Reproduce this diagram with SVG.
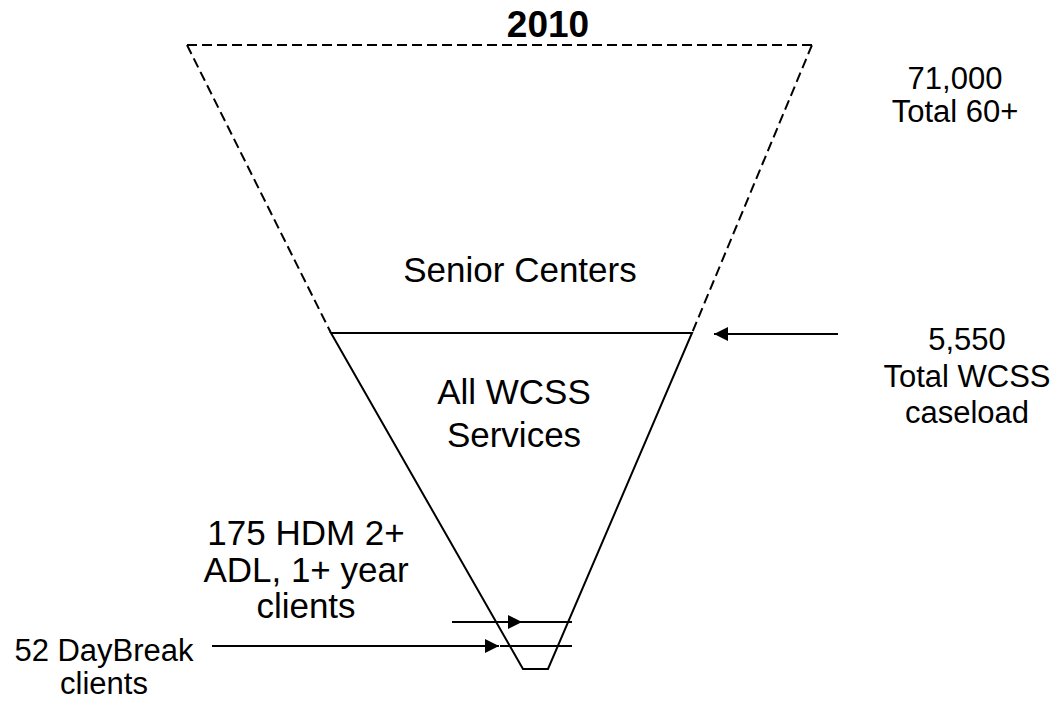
<svg xmlns="http://www.w3.org/2000/svg" width="1059" height="702" viewBox="0 0 1059 702">
  <style>
    text { font-family: "Liberation Sans", Arial, sans-serif; fill: #000; text-anchor: middle; }
    .lg { font-size: 35px; }
    .md { font-size: 31px; }
    .title { font-size: 37px; font-weight: bold; }
    .solid { stroke: #000; stroke-width: 2; fill: none; }
    .dash { stroke: #000; stroke-width: 2; fill: none; stroke-dasharray: 10 5; }
  </style>
  <defs>
    <marker id="arrow" viewBox="0 0 10 10" refX="10" refY="5" markerWidth="7.5" markerHeight="7" orient="auto" markerUnits="strokeWidth">
      <path d="M0,0 L10,5 L0,10 Z" fill="#000"/>
    </marker>
  </defs>

  <rect width="1059" height="702" fill="#fff"/>

  <g id="title">
    <text class="title" x="548" y="37">2010</text>
  </g>

  <!-- upper (dashed) part of the funnel -->
  <g id="senior-centers">
    <path class="dash" d="M187,45 L812,45 M187,45 L331,333 M812,45 L692,333"/>
    <text class="lg" x="520" y="282">Senior Centers</text>
  </g>

  <!-- lower (solid) part of the funnel -->
  <g id="wcss-services">
    <path class="solid" d="M331,333 L692,333 L548,669 L523,669 Z"/>
    <text class="lg" x="514" y="404">All WCSS</text>
    <text class="lg" x="514" y="447">Services</text>
  </g>

  <g id="hdm-level">
    <line class="solid" x1="505" y1="622" x2="572" y2="622"/>
  </g>
  <g id="daybreak-level">
    <line class="solid" x1="500" y1="646" x2="572" y2="646"/>
  </g>

  <g id="total-60">
    <text class="md" x="955" y="89">71,000</text>
    <text class="md" x="955" y="122">Total 60+</text>
  </g>

  <g id="wcss-caseload">
    <text class="md" x="967" y="350">5,550</text>
    <text class="md" x="967" y="387">Total WCSS</text>
    <text class="md" x="967" y="423">caseload</text>
  </g>

  <g id="hdm-clients">
    <text class="lg" x="306" y="545">175 HDM 2+</text>
    <text class="lg" x="306" y="582">ADL, 1+ year</text>
    <text class="lg" x="306" y="618">clients</text>
  </g>

  <g id="daybreak-clients">
    <text class="md" x="104" y="661">52 DayBreak</text>
    <text class="md" x="104" y="694">clients</text>
  </g>

  <g id="connectors">
    <line class="solid" x1="838" y1="334" x2="714" y2="334" marker-end="url(#arrow)"/>
    <line class="solid" x1="452" y1="622" x2="522" y2="622" marker-end="url(#arrow)"/>
    <line class="solid" x1="212" y1="646" x2="499" y2="646" marker-end="url(#arrow)"/>
  </g>
</svg>
